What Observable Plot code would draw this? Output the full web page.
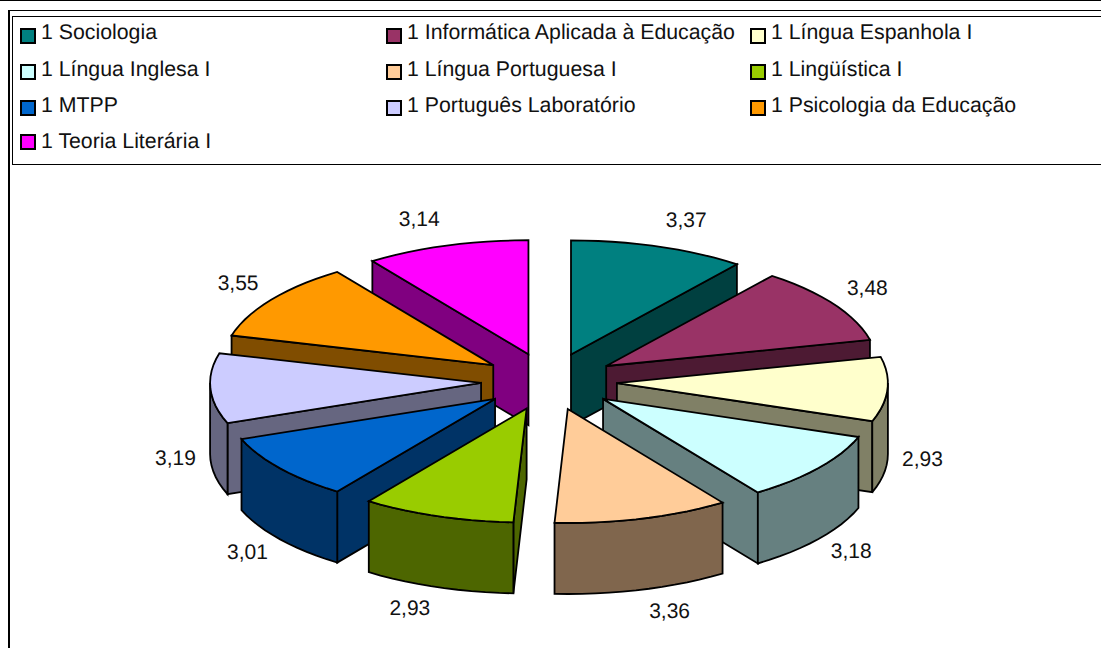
<!DOCTYPE html>
<html lang="pt">
<head>
<meta charset="utf-8">
<script src="https://cdn.jsdelivr.net/npm/d3@7"></script>
<script src="https://cdn.jsdelivr.net/npm/@observablehq/plot@0.6"></script>
<style>
  html, body { margin:0; padding:0; background:#fff; overflow:hidden; width:1101px; height:648px; font-family:"Liberation Sans", Arial, sans-serif; color:#111; text-rendering:geometricPrecision; }
  .ln { position:absolute; background:#000; }
  .entry { position:absolute; font-size:21.3px; line-height:24px; white-space:nowrap; }
  .sw { position:absolute; width:12px; height:12px; border:2px solid #000; box-sizing:content-box; }
  #chart { position:absolute; left:0; top:164px; }
  #chart svg { background:transparent; display:block; text-rendering:geometricPrecision; }
</style>
</head>
<body>
<div class="ln" style="left:0;top:0;width:1101px;height:1px"></div>
<div class="ln" style="left:8px;top:10px;width:1093px;height:1px"></div>
<div class="ln" style="left:8px;top:10px;width:2px;height:638px"></div>
<div class="ln" style="left:12px;top:16px;width:1089px;height:1px"></div>
<div class="ln" style="left:12px;top:16px;width:1px;height:148px"></div>
<div class="ln" style="left:12px;top:164px;width:1089px;height:1px"></div>
<div id="legend"></div>
<div id="chart"></div>
<script>
const disciplinas = ["1 Sociologia","1 Informática Aplicada à Educação","1 Língua Espanhola I","1 Língua Inglesa I","1 Língua Portuguesa I","1 Lingüística I","1 MTPP","1 Português Laboratório","1 Psicologia da Educação","1 Teoria Literária I"];
const valores = [3.37,3.48,2.93,3.18,3.36,2.93,3.01,3.19,3.55,3.14];
const cores = ["#008080","#993366","#FFFFCC","#CCFFFF","#FFCC99","#99CC00","#0066CC","#CCCCFF","#FF9900","#FF00FF"];
// back-to-front painting order of the slices
const ordemPintura = [0,9,1,8,2,7,3,6,4,5];

// legend
const legendCols = [20, 386, 750], legendRows = [28, 64, 100, 134], textRows = [20, 57, 93, 129];
const legend = document.getElementById("legend");
disciplinas.forEach((nome, i) => {
  const c = i % 3, r = Math.floor(i / 3);
  const sw = document.createElement("div");
  sw.className = "sw";
  sw.style.cssText = `left:${legendCols[c]}px;top:${legendRows[r]}px;background:${cores[i]}`;
  const t = document.createElement("div");
  t.className = "entry";
  t.style.cssText = `left:${legendCols[c] + 21}px;top:${textRows[r]}px`;
  t.textContent = nome;
  legend.append(sw, t);
});

// pie geometry
const cx = 548.5, cy = 381, rx = 271, ry = 114, explode = 68, depth = 71, k = ry / rx, passo = 3;
const rad = d => d * Math.PI / 180;
const total = d3.sum(valores);
let acc = 0;
const fatias = valores.map((v, i) => {
  const a0 = acc / total * 360; acc += v; const a1 = acc / total * 360;
  const m = (a0 + a1) / 2;
  return {i, v, a0, a1, m,
    ax: cx + explode * Math.sin(rad(m)),
    ay: cy - explode * k * Math.cos(rad(m))};
});
const borda = (f, a, z = 0) => ({x: f.ax + rx * Math.sin(rad(a)), y: f.ay - ry * Math.cos(rad(a)) + z});
const meia = c => { const q = d3.rgb(c); return d3.rgb(q.r / 2, q.g / 2, q.b / 2).formatHex(); };
const arco = (a, b) => { const n = Math.max(1, Math.ceil((b - a) / passo)); return d3.range(n + 1).map(j => a + (b - a) * j / n); };

const faces = [];
const addFace = (id, fill, pts) => pts.forEach(p => faces.push({id, fill, x: p.x, y: p.y}));
for (const i of ordemPintura) {
  const f = fatias[i], wall = meia(cores[i]), top = cores[i];
  if (f.a0 > 180) {
    const e = borda(f, f.a0);
    addFace(i + "s", wall, [{x:f.ax,y:f.ay},e,{x:e.x,y:e.y+depth},{x:f.ax,y:f.ay+depth}]);
  }
  if (f.a1 < 180) {
    const e = borda(f, f.a1);
    addFace(i + "e", wall, [{x:f.ax,y:f.ay},e,{x:e.x,y:e.y+depth},{x:f.ax,y:f.ay+depth}]);
  }
  const lo = Math.max(f.a0, 90), hi = Math.min(f.a1, 270);
  if (lo < hi) {
    const as = arco(lo, hi);
    addFace(i + "o", wall, [...as.map(a => borda(f, a)), ...as.slice().reverse().map(a => borda(f, a, depth))]);
  }
  addFace(i + "t", top, [{x:f.ax,y:f.ay}, ...arco(f.a0, f.a1).map(a => borda(f, a))]);
}

// data labels just outside the outer rim of each slice
const rotulos = fatias.map(f => {
  const s = Math.sin(rad(f.m)), c = Math.cos(rad(f.m));
  const p = borda(f, f.m, c < 0.1 ? depth : 0);
  return {
    texto: f.v.toFixed(2).replace(".", ","),
    x: p.x + Math.sign(s) * (24 + 11 * Math.abs(s)),
    y: p.y - 25 * c - 2.5
  };
});

const chart = Plot.plot({
  width: 1101, height: 484,
  margin: 0,
  x: {domain: [0, 1101], range: [0, 1101], axis: null},
  y: {domain: [164, 648], range: [0, 484], axis: null},
  style: {fontFamily: '"Liberation Sans", Arial, sans-serif', background: "transparent"},
  marks: [
    Plot.line(faces, {x: "x", y: "y", z: "id", fill: {value: "fill", scale: null}, stroke: "#000", strokeWidth: 1.8, curve: "linear-closed", strokeLinejoin: "miter", strokeMiterlimit: 3}),
    Plot.text(rotulos, {x: "x", y: "y", text: "texto", fontSize: 21, fill: "#111"})
  ]
});
document.getElementById("chart").append(chart);
</script>
</body>
</html>
